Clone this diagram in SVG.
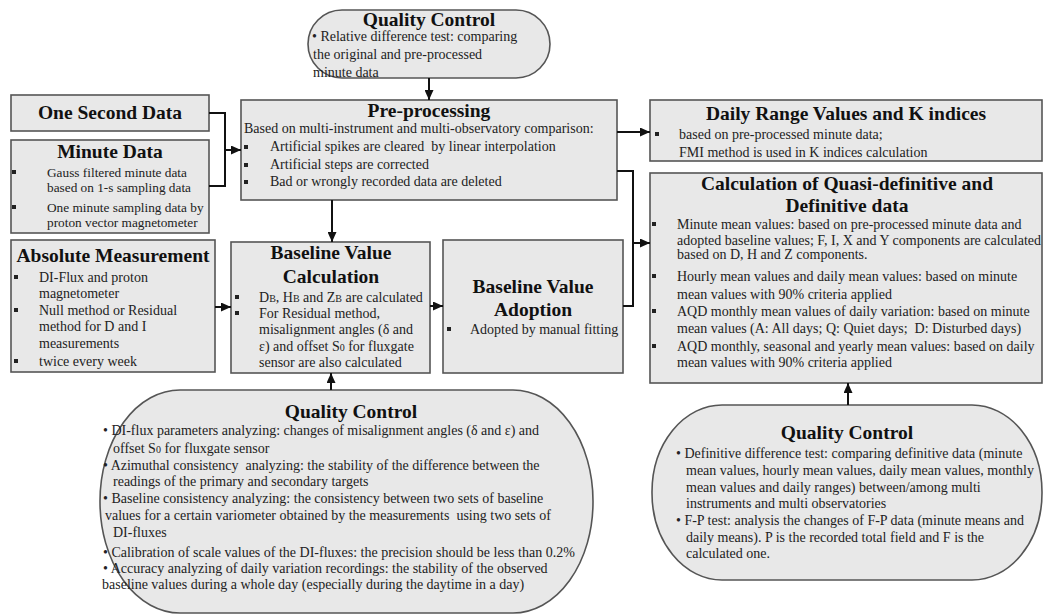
<svg xmlns="http://www.w3.org/2000/svg" width="1044" height="615" viewBox="0 0 1044 615">
<defs>
<style>
.box{fill:#e8e8e8;stroke:#555;stroke-width:1.6}
.t{font-family:"Liberation Serif","Times New Roman",serif;font-weight:bold;font-size:19.5px;fill:#111;text-anchor:middle}
.b{font-family:"Liberation Serif","Times New Roman",serif;font-size:14px;fill:#222}
.s{font-size:13.3px}
.sub{font-size:10px}
.sq{fill:#222}
.c{fill:none;stroke:#111;stroke-width:2}
</style>
<marker id="ah" markerUnits="userSpaceOnUse" markerWidth="11" markerHeight="9" refX="10" refY="4.5" orient="auto">
<path d="M0,0 L10,4.5 L0,9 Z" fill="#111"/>
</marker>
</defs>
<rect width="1044" height="615" fill="#fff"/>

<g id="qc-top">
<rect class="box" x="308" y="10" width="242" height="68" rx="34" ry="34"/>
<text class="t" x="429" y="25.5">Quality Control</text>
<text class="b" x="312" y="41">• Relative difference test: comparing</text>
<text class="b" x="313" y="59">the original and pre-processed</text>
<text class="b" x="313" y="77">minute data</text>
</g>

<g id="one-second">
<rect class="box" x="11" y="95" width="198" height="36"/>
<text class="t" x="110" y="119">One Second Data</text>
</g>

<g id="minute-data">
<rect class="box" x="11" y="140" width="198" height="93"/>
<text class="t" x="110" y="158">Minute Data</text>
<rect class="sq" x="12" y="170" width="4" height="4"/>
<text class="b s" x="47" y="177">Gauss filtered minute data</text>
<text class="b s" x="47" y="192">based on 1-s sampling data</text>
<rect class="sq" x="12" y="205" width="4" height="4"/>
<text class="b s" x="47" y="212">One minute sampling data by</text>
<text class="b s" x="47" y="227">proton vector magnetometer</text>
</g>

<g id="preprocessing">
<rect class="box" x="241" y="100" width="376" height="100"/>
<text class="t" x="429" y="117">Pre-processing</text>
<text class="b" x="244" y="133">Based on multi-instrument and multi-observatory comparison:</text>
<rect class="sq" x="244" y="145" width="4" height="4"/>
<text class="b" x="270" y="151" xml:space="preserve">Artificial spikes are cleared  by linear interpolation</text>
<rect class="sq" x="244" y="163" width="4" height="4"/>
<text class="b" x="270" y="169">Artificial steps are corrected</text>
<rect class="sq" x="244" y="180" width="4" height="4"/>
<text class="b" x="270" y="186">Bad or wrongly recorded data are deleted</text>
</g>

<g id="daily-range">
<rect class="box" x="650" y="100" width="392" height="61"/>
<text class="t" x="846" y="120">Daily Range Values and K indices</text>
<rect class="sq" x="655" y="132" width="4" height="4"/>
<text class="b" x="679" y="139">based on pre-processed minute data;</text>
<text class="b" x="679" y="157">FMI method is used in K indices calculation</text>
</g>

<g id="calc-definitive">
<rect class="box" x="650" y="173" width="392" height="210"/>
<text class="t" x="847" y="190">Calculation of Quasi-definitive and</text>
<text class="t" x="847" y="212">Definitive data</text>
<rect class="sq" x="652" y="222" width="4" height="4"/>
<text class="b" x="677" y="229">Minute mean values: based on pre-processed minute data and</text>
<text class="b" x="677" y="244.5">adopted baseline values; F, I, X and Y components are calculated</text>
<text class="b" x="677" y="259">based on D, H and Z components.</text>
<rect class="sq" x="652" y="274" width="4" height="4"/>
<text class="b" x="677" y="281">Hourly mean values and daily mean values: based on minute</text>
<text class="b" x="677" y="298.5">mean values with 90% criteria applied</text>
<rect class="sq" x="652" y="309" width="4" height="4"/>
<text class="b" x="677" y="316">AQD monthly mean values of daily variation: based on minute</text>
<text class="b" x="677" y="333" xml:space="preserve">mean values (A: All days; Q: Quiet days;  D: Disturbed days)</text>
<rect class="sq" x="652" y="344" width="4" height="4"/>
<text class="b" x="677" y="350.5">AQD monthly, seasonal and yearly mean values: based on daily</text>
<text class="b" x="677" y="367">mean values with 90% criteria applied</text>
</g>

<g id="absolute">
<rect class="box" x="11" y="240" width="204" height="132"/>
<text class="t" x="113" y="262">Absolute Measurement</text>
<rect class="sq" x="14" y="275" width="4" height="4"/>
<text class="b" x="39" y="282">DI-Flux and proton</text>
<text class="b" x="39" y="298">magnetometer</text>
<rect class="sq" x="14" y="308" width="4" height="4"/>
<text class="b" x="39" y="315">Null method or Residual</text>
<text class="b" x="39" y="331">method for D and I</text>
<text class="b" x="39" y="348">measurements</text>
<rect class="sq" x="14" y="359" width="4" height="4"/>
<text class="b" x="39" y="366">twice every week</text>
</g>

<g id="baseline-calc">
<rect class="box" x="231" y="242" width="199" height="131"/>
<text class="t" x="331" y="259">Baseline Value</text>
<text class="t" x="331" y="283">Calculation</text>
<rect class="sq" x="235" y="295" width="4" height="4"/>
<text class="b" x="259" y="302">D<tspan class="sub">B</tspan>, H<tspan class="sub">B</tspan> and Z<tspan class="sub">B</tspan> are calculated</text>
<rect class="sq" x="235" y="311" width="4" height="4"/>
<text class="b" x="259" y="317.5">For Residual method,</text>
<text class="b" x="259" y="334">misalignment angles (δ and</text>
<text class="b" x="259" y="350.5">ε) and offset S<tspan class="sub">0</tspan> for fluxgate</text>
<text class="b" x="259" y="367">sensor are also calculated</text>
</g>

<g id="baseline-adoption">
<rect class="box" x="443" y="240" width="180" height="133"/>
<text class="t" x="533" y="293">Baseline Value</text>
<text class="t" x="533" y="316">Adoption</text>
<rect class="sq" x="447" y="327" width="4" height="4"/>
<text class="b" x="470" y="334">Adopted by manual fitting</text>
</g>

<g id="qc-baseline">
<rect class="box" x="100" y="390" width="493" height="223" rx="80" ry="111"/>
<text class="t" x="351" y="418">Quality Control</text>
<text class="b" x="103" y="435">• DI-flux parameters analyzing: changes of misalignment angles (δ and ε) and</text>
<text class="b" x="113" y="453">offset S<tspan class="sub">0</tspan> for fluxgate sensor</text>
<text class="b" x="103" y="470" xml:space="preserve">• Azimuthal consistency  analyzing: the stability of the difference between the</text>
<text class="b" x="113" y="486">readings of the primary and secondary targets</text>
<text class="b" x="103" y="503">• Baseline consistency analyzing: the consistency between two sets of baseline</text>
<text class="b" x="105" y="520" xml:space="preserve">values for a certain variometer obtained by the measurements  using two sets of</text>
<text class="b" x="113" y="537">DI-fluxes</text>
<text class="b" x="103" y="557">• Calibration of scale values of the DI-fluxes: the precision should be less than 0.2%</text>
<text class="b" x="103" y="573">• Accuracy analyzing of daily variation recordings: the stability of the observed</text>
<text class="b" x="102" y="589">baseline values during a whole day (especially during the daytime in a day)</text>
</g>

<g id="qc-definitive">
<rect class="box" x="652" y="405" width="390" height="175" rx="70" ry="87"/>
<text class="t" x="847" y="439">Quality Control</text>
<text class="b" x="676" y="458">• Definitive difference test: comparing definitive data (minute</text>
<text class="b" x="686" y="475">mean values, hourly mean values, daily mean values, monthly</text>
<text class="b" x="686" y="492">mean values and daily ranges) between/among multi</text>
<text class="b" x="686" y="508">instruments and multi observatories</text>
<text class="b" x="676" y="525">• F-P test: analysis the changes of F-P data (minute means and</text>
<text class="b" x="686" y="542">daily means). P is the recorded total field and F is the</text>
<text class="b" x="686" y="558">calculated one.</text>
</g>

<g id="connectors">
<path class="c" d="M429,78 V100" marker-end="url(#ah)"/>
<path class="c" d="M209,113 H225 V186 H209"/>
<path class="c" d="M225,150 H241" marker-end="url(#ah)"/>
<path class="c" d="M617,132 H650" marker-end="url(#ah)"/>
<path class="c" d="M617,171 H633 V306 H623"/>
<path class="c" d="M633,243 H650" marker-end="url(#ah)"/>
<path class="c" d="M332,200 V242" marker-end="url(#ah)"/>
<path class="c" d="M215,307 H231" marker-end="url(#ah)"/>
<path class="c" d="M430,306 H443" marker-end="url(#ah)"/>
<path class="c" d="M331,390 V373" marker-end="url(#ah)"/>
<path class="c" d="M848,405 V383" marker-end="url(#ah)"/>
</g>
</svg>
